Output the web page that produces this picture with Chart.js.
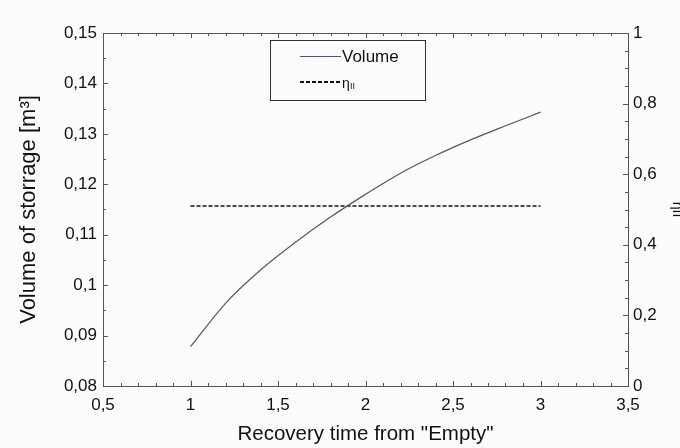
<!DOCTYPE html>
<html>
<head>
<meta charset="utf-8">
<script src="https://cdn.jsdelivr.net/npm/chart.js@4.4.0/dist/chart.umd.min.js"></script>
<style>
  html, body { margin: 0; padding: 0; background: #fcfcfc; }
  #wrap { width: 680px; height: 448px; position: relative; }
</style>
</head>
<body>
<div id="wrap"><canvas id="chart" width="680" height="448"></canvas></div>
<script>
// Data
const recoveryTime = [1, 1.2, 1.4, 1.6, 1.8, 2.0, 2.2, 2.4, 2.6, 2.8, 3.0];
const volume = [0.0878, 0.0964, 0.1030, 0.1085, 0.1135, 0.1180, 0.1222, 0.1257, 0.1288, 0.1316, 0.1343];
const etaTime = [1, 3];
const etaII = [0.51, 0.51];

const FONT = "'Liberation Sans', Arial, sans-serif";
const TEXT_COLOR = '#111111';
const AXIS_COLOR = '#555555';
const VOLUME_COLOR = '#5c4e7c';

// comma decimals, like the original
function fmt(v) {
  return String(Number(v.toFixed(4))).replace('.', ',');
}

// Inward major + minor ticks on all four sides, plus the frame
const frameTicks = {
  id: 'frameTicks',
  afterDraw(chart) {
    const { ctx, chartArea: a, scales } = chart;
    ctx.save();
    ctx.strokeStyle = AXIS_COLOR;
    ctx.lineWidth = 1;
    ctx.strokeRect(a.left + 0.5, a.top + 0.5, a.right - a.left, a.bottom - a.top);

    const drawTicks = (scale, step, sub, sides) => {
      const n = Math.round((scale.max - scale.min) / step * sub);
      for (let i = 0; i <= n; i++) {
        const v = scale.min + i * step / sub;
        const p = Math.round(scale.getPixelForValue(v)) + 0.5;
        const len = i % sub === 0 ? 5 : 3;
        ctx.beginPath();
        sides.forEach(side => {
          if (side === 'bottom') { ctx.moveTo(p, a.bottom); ctx.lineTo(p, a.bottom - len); }
          if (side === 'top') { ctx.moveTo(p, a.top); ctx.lineTo(p, a.top + len); }
          if (side === 'left') { ctx.moveTo(a.left, p); ctx.lineTo(a.left + len, p); }
          if (side === 'right') { ctx.moveTo(a.right, p); ctx.lineTo(a.right - len, p); }
        });
        ctx.stroke();
      }
    };
    drawTicks(scales.x, 0.5, 5, ['bottom', 'top']);
    drawTicks(scales.y, 0.01, 2, ['left']);
    drawTicks(scales.y2, 0.2, 4, ['right']);
    ctx.restore();
  }
};

// Legend box inside the plot
const boxLegend = {
  id: 'boxLegend',
  afterDraw(chart) {
    const ctx = chart.ctx;
    ctx.save();
    ctx.strokeStyle = '#333333';
    ctx.lineWidth = 1;
    ctx.strokeRect(270.5, 40.5, 155, 60);

    ctx.strokeStyle = VOLUME_COLOR;
    ctx.lineWidth = 1;
    ctx.beginPath();
    ctx.moveTo(300, 56.5);
    ctx.lineTo(341, 56.5);
    ctx.stroke();

    ctx.strokeStyle = '#111111';
    ctx.lineWidth = 1.8;
    ctx.setLineDash([4, 2]);
    ctx.beginPath();
    ctx.moveTo(300, 82);
    ctx.lineTo(341, 82);
    ctx.stroke();
    ctx.setLineDash([]);

    ctx.fillStyle = TEXT_COLOR;
    ctx.textBaseline = 'middle';
    ctx.font = '17px ' + FONT;
    ctx.fillText('Volume', 342, 57);
    ctx.font = '14px ' + FONT;
    ctx.fillText('η', 342, 84);
    ctx.font = '9px ' + FONT;
    ctx.fillText('II', 350, 87);
    ctx.restore();
  }
};

new Chart(document.getElementById('chart'), {
  type: 'line',
  data: {
    datasets: [{
      label: 'Volume',
      data: recoveryTime.map((x, i) => ({ x: x, y: volume[i] })),
      borderColor: VOLUME_COLOR,
      borderWidth: 1.2,
      pointRadius: 0,
      cubicInterpolationMode: 'monotone',
      yAxisID: 'y'
    }, {
      label: 'ηII',
      data: etaTime.map((x, i) => ({ x: x, y: etaII[i] })),
      borderColor: '#111111',
      borderWidth: 1.6,
      borderDash: [4, 2],
      pointRadius: 0,
      yAxisID: 'y2'
    }]
  },
  plugins: [frameTicks, boxLegend],
  options: {
    responsive: false,
    animation: false,
    layout: { padding: { top: 33, right: 0, left: 0, bottom: 0 } },
    plugins: { legend: { display: false }, tooltip: { enabled: false } },
    scales: {
      x: {
        type: 'linear',
        position: 'bottom',
        min: 0.5, max: 3.5,
        afterFit(s) { s.height = 62; },
        grid: { display: false, drawTicks: false },
        border: { display: false },
        ticks: {
          stepSize: 0.5, padding: 9, color: TEXT_COLOR,
          font: { family: FONT, size: 17 },
          callback: v => fmt(v)
        },
        title: {
          display: true, text: 'Recovery time from "Empty"', color: TEXT_COLOR,
          font: { family: FONT, size: 20.5 }, padding: { top: 0, bottom: 1 }
        }
      },
      y: {
        position: 'left',
        min: 0.08, max: 0.15,
        afterFit(s) { s.width = 103; },
        grid: { display: false, drawTicks: false },
        border: { display: false },
        ticks: {
          stepSize: 0.01, padding: 6, color: TEXT_COLOR,
          font: { family: FONT, size: 17 },
          callback: v => fmt(v)
        },
        title: {
          display: true, text: 'Volume of storrage [m³]', color: TEXT_COLOR,
          font: { family: FONT, size: 22 }, padding: { top: 16, bottom: 0 }
        }
      },
      y2: {
        position: 'right',
        min: 0, max: 1,
        afterFit(s) { s.width = 52; },
        grid: { display: false, drawTicks: false },
        border: { display: false },
        ticks: {
          stepSize: 0.2, padding: 5, color: TEXT_COLOR,
          font: { family: FONT, size: 17 },
          callback: v => fmt(v)
        },
        title: {
          display: true, text: 'ηII', color: TEXT_COLOR,
          font: { family: FONT, size: 14 }, padding: { top: -5, bottom: 0 }
        }
      }
    }
  }
});
</script>
</body>
</html>
